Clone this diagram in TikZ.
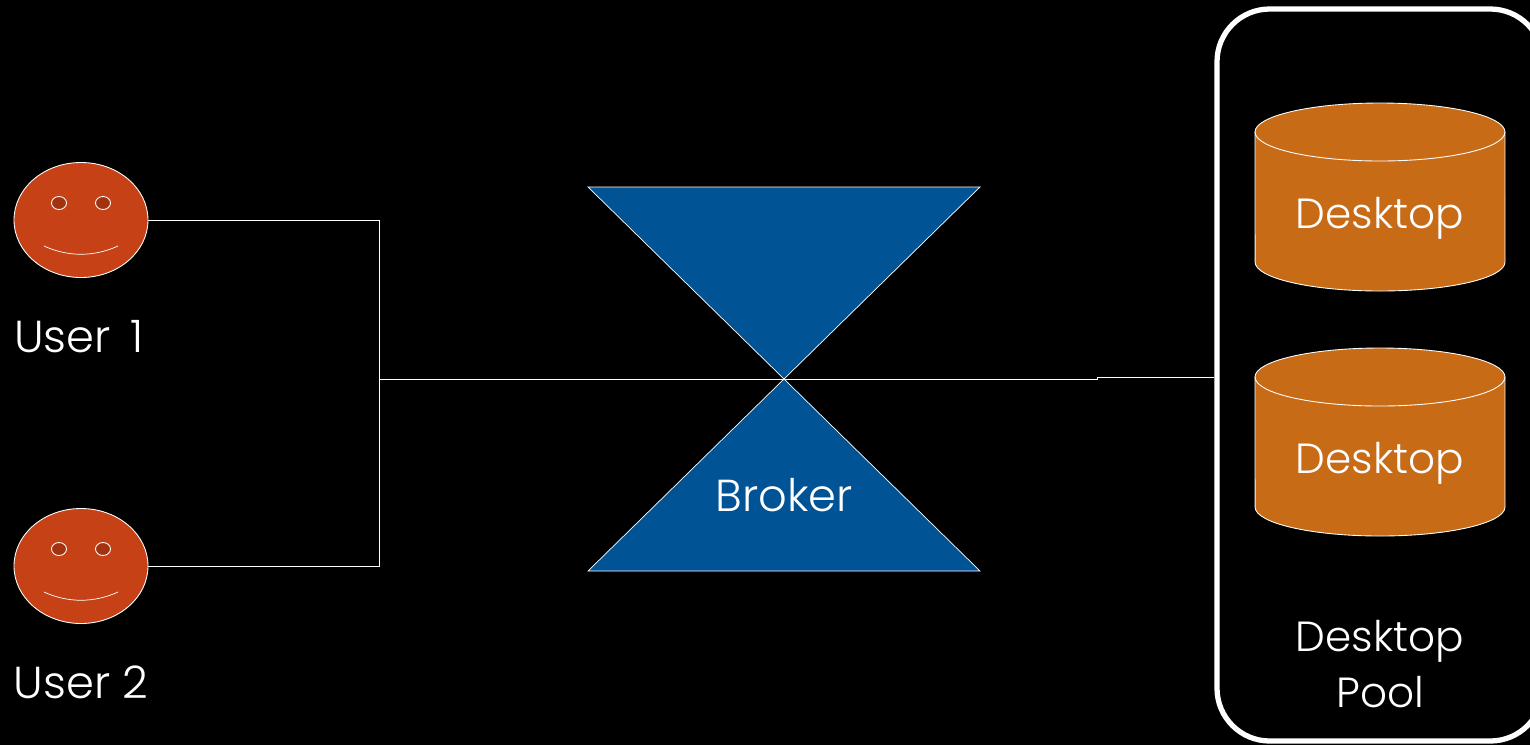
\documentclass[tikz,border=0pt]{standalone}
\usepackage{fontspec}
\setmainfont{Poppins Light}
\usetikzlibrary{shapes.geometric}
\definecolor{facered}{HTML}{C64116}
\definecolor{eyered}{HTML}{A33210}
\definecolor{brokerblue}{HTML}{005496}
\definecolor{desktoporange}{HTML}{C86B17}
\tikzset{
  wire/.style={draw=white,line width=0.4pt},
  label/.style={text=white,font=\fontsize{25.5}{32}\selectfont,inner sep=0pt,align=center},
  deskname/.style={label,font=\fontsize{24}{32}\selectfont},
  face/.style={ellipse,draw=white,fill=facered,line width=0.5pt,minimum width=134\pxu,minimum height=115\pxu,inner sep=0pt},
  eye/.style={ellipse,draw=white,fill=eyered,line width=0.5pt,minimum width=15\pxu,minimum height=13\pxu,inner sep=0pt},
  desktop/.style={draw=white,fill=desktoporange,line width=0.5pt},
  wedge/.style={draw=white,fill=brokerblue,line width=0.4pt}
}
\newcommand{\pxu}{*0.02cm}
\begin{document}
\begin{tikzpicture}[x=0.02cm,y=-0.02cm]
    \useasboundingbox[fill=black] (0,0) rectangle (1530,745);
    % users
    \node[face] (user1) at (81,220) {};
    \node[face] (user2) at (81,566) {};
    \node[eye] (eye1a) at (59,203) {};
    \node[eye] (eye1b) at (103,203) {};
    \node[eye] (eye2a) at (59,549) {};
    \node[eye] (eye2b) at (103,549) {};
    \coordinate (smile1a) at (44,246);
    \coordinate (smile1b) at (118,246);
    \coordinate (smile2a) at (44,592);
    \coordinate (smile2b) at (118,592);
    \draw[wire] (smile1a) .. controls (68,257) and (94,257) .. (smile1b);
    \draw[wire] (smile2a) .. controls (68,603) and (94,603) .. (smile2b);
    \node[label] (name1) at (79,337) {User\, 1};
    \node[label] (name2) at (81,682) {User 2};
    % broker
    \coordinate (mid) at (784,379);
    \coordinate (topl) at (588,187);
    \coordinate (topr) at (980,187);
    \coordinate (botl) at (588,571);
    \coordinate (botr) at (980,571);
    \draw[wedge] (topl) -- (topr) -- (mid) -- cycle;
    \draw[wedge] (mid) -- (botr) -- (botl) -- cycle;
    \node[label] (broker) at (784,495) {Broker};
    % desktops
    \node[draw=white,line width=3pt,rounded corners=30pt,minimum width=326\pxu,minimum height=732\pxu,inner sep=0pt] (pool) at (1380,375) {};
    \foreach \y in {103,348} {
      \draw[desktop] (1255,\y+29) arc[start angle=180,end angle=0,x radius=2.5cm,y radius=0.58cm]
        -- (1505,\y+159) arc[start angle=0,end angle=-180,x radius=2.5cm,y radius=0.58cm] -- cycle;
      \draw[desktop,fill=none] (1255,\y+29) arc[start angle=180,end angle=360,x radius=2.5cm,y radius=0.58cm];
    }
    \node[deskname] (desk1name) at (1380,218) {Desktop};
    \node[deskname] (desk2name) at (1380,463) {Desktop};
    \node[deskname] (poolname) at (1380,664) {Desktop\\Pool};
    % wires
    \coordinate (join) at (379,379);
    \coordinate (stepa) at (1097,379);
    \coordinate (stepb) at (1097,377);
    \draw[wire] (user1.east) -| (join);
    \draw[wire] (user2.east) -| (join);
    \draw[wire] (join) -- (mid) -- (stepa) -- (stepb) -- (stepb -| pool.west);
  \end{tikzpicture}
\end{document}
